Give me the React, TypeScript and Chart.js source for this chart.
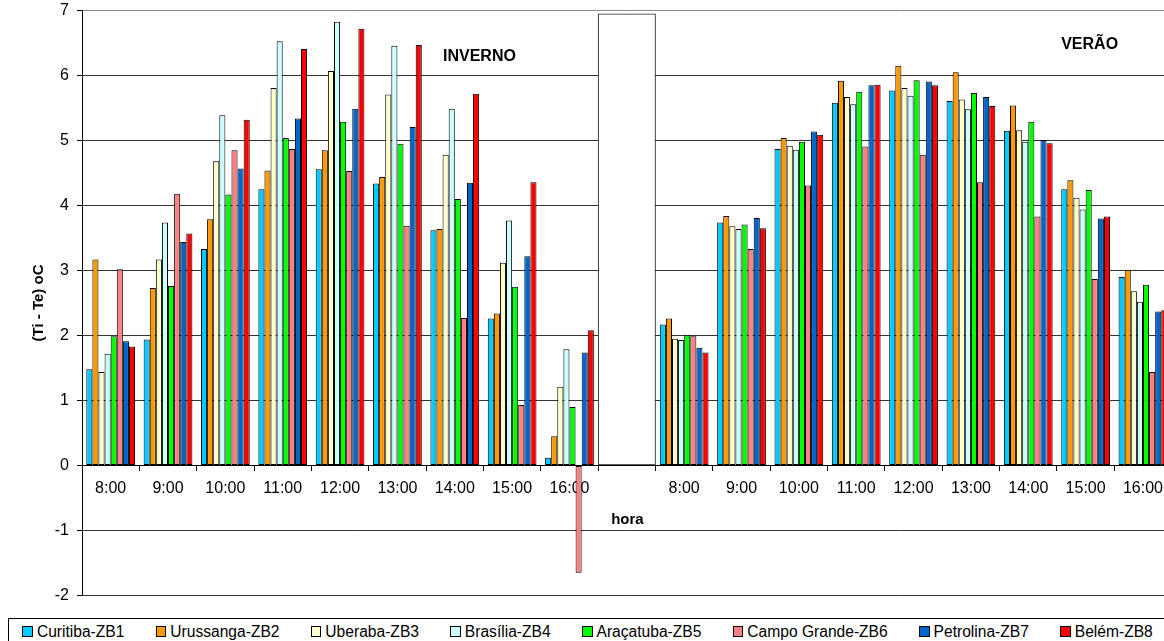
import { useEffect, useRef } from "react";
import { Chart, registerables } from "chart.js";

Chart.register(...registerables);

const FONT = '"Liberation Sans", Arial, Helvetica, sans-serif';

// Hours of the day, shown once for winter and once for summer
const hours = ["8:00", "9:00", "10:00", "11:00", "12:00", "13:00", "14:00", "15:00", "16:00"];
// Empty slot between the two seasons holds the separator box
const labels = [...hours, "", ...hours];

// (Ti - Te) in °C — winter (INVERNO)
const curitibaInverno = [1.48, 1.94, 3.33, 4.25, 4.56, 4.34, 3.62, 2.26, 0.12];
const urussangaInverno = [3.17, 2.73, 3.79, 4.54, 4.85, 4.44, 3.64, 2.34, 0.45];
const uberabaInverno = [1.44, 3.17, 4.69, 5.81, 6.07, 5.71, 4.78, 3.12, 1.21];
const brasiliaInverno = [1.72, 3.74, 5.39, 6.53, 6.83, 6.46, 5.49, 3.77, 1.79];
const aracatubaInverno = [1.99, 2.76, 4.17, 5.04, 5.29, 4.95, 4.1, 2.75, 0.9];
const campoGrandeInverno = [3.02, 4.18, 4.85, 4.87, 4.53, 3.69, 2.27, 0.93, -1.65];
const petrolinaInverno = [1.91, 3.44, 4.57, 5.34, 5.49, 5.21, 4.35, 3.22, 1.74];
const belemInverno = [1.83, 3.57, 5.32, 6.41, 6.72, 6.47, 5.72, 4.36, 2.08];

// (Ti - Te) in °C — summer (VERÃO)
const curitibaVerao = [2.17, 3.74, 4.87, 5.58, 5.77, 5.61, 5.15, 4.25, 2.9];
const urussangaVerao = [2.26, 3.84, 5.04, 5.92, 6.15, 6.05, 5.54, 4.39, 3.01];
const uberabaVerao = [1.95, 3.68, 4.92, 5.67, 5.81, 5.63, 5.16, 4.12, 2.68];
const brasiliaVerao = [1.93, 3.64, 4.86, 5.56, 5.69, 5.48, 4.98, 3.94, 2.52];
const aracatubaVerao = [2.01, 3.71, 4.98, 5.75, 5.93, 5.73, 5.29, 4.24, 2.78];
const campoGrandeVerao = [1.99, 3.33, 4.31, 4.91, 4.78, 4.36, 3.83, 2.87, 1.44];
const petrolinaVerao = [1.81, 3.81, 5.14, 5.85, 5.91, 5.67, 5.01, 3.8, 2.37];
const belemVerao = [1.74, 3.65, 5.09, 5.86, 5.85, 5.53, 4.96, 3.83, 2.39];

// Height of the blank separator box between the seasons
const separatorHeight = 6.95;

const seriesNames = [
  "Curitiba-ZB1",
  "Urussanga-ZB2",
  "Uberaba-ZB3",
  "Brasília-ZB4",
  "Araçatuba-ZB5",
  "Campo Grande-ZB6",
  "Petrolina-ZB7",
  "Belém-ZB8",
];
const seriesColors = ["#00CCFF", "#FF9900", "#FFFFCC", "#CCFFFF", "#00FF00", "#FF8080", "#0066CC", "#FF0000"];
const winterValues = [
  curitibaInverno,
  urussangaInverno,
  uberabaInverno,
  brasiliaInverno,
  aracatubaInverno,
  campoGrandeInverno,
  petrolinaInverno,
  belemInverno,
];
const summerValues = [
  curitibaVerao,
  urussangaVerao,
  uberabaVerao,
  brasiliaVerao,
  aracatubaVerao,
  campoGrandeVerao,
  petrolinaVerao,
  belemVerao,
];

// Free text drawn inside the plot, placed in data coordinates
const seasonText = {
  id: "seasonText",
  afterDraw(chart: any) {
    const { ctx, scales } = chart;
    const x = scales.x;
    const y = scales.y;
    ctx.save();
    ctx.fillStyle = "#000";
    ctx.textAlign = "center";
    ctx.textBaseline = "middle";
    ctx.font = `bold 16px ${FONT}`;
    ctx.fillText("INVERNO", x.getPixelForValue(6.43), y.getPixelForValue(6.29));
    ctx.fillText("VERÃO", x.getPixelForValue(17.07), y.getPixelForValue(6.48));
    ctx.font = `bold 15px ${FONT}`;
    ctx.fillText("hora", x.getPixelForValue(9.01), y.getPixelForValue(-0.83));
    ctx.restore();
  },
};

function ChartCanvas() {
  const ref = useRef<HTMLCanvasElement>(null);

  useEffect(() => {
    if (!ref.current) return;
    Chart.defaults.font.family = FONT;
    Chart.defaults.color = "#000";

    const barSets = seriesNames.map((name, i) => ({
      label: name,
      data: [...winterValues[i], null, ...summerValues[i]],
      backgroundColor: seriesColors[i],
      borderColor: "#000",
      borderWidth: 1,
      borderSkipped: false,
      barPercentage: 1,
      categoryPercentage: 0.85,
    }));

    const separator = {
      label: "separator",
      data: labels.map((_, i) => (i === hours.length ? separatorHeight : null)),
      backgroundColor: "#FFFFFF",
      borderColor: "#222",
      borderWidth: 1,
      borderSkipped: false,
      grouped: false,
      barPercentage: 1,
      categoryPercentage: 1,
    };

    const chart = new Chart(ref.current, {
      type: "bar",
      data: { labels, datasets: [...barSets, separator] as any },
      plugins: [seasonText],
      options: {
        animation: false,
        responsive: false,
        maintainAspectRatio: false,
        layout: { padding: { top: 0, right: 0, bottom: 10, left: 0 } },
        plugins: {
          legend: { display: false },
          tooltip: { enabled: false },
          title: { display: false },
        },
        scales: {
          x: {
            position: { y: 0 } as any,
            ticks: {
              color: "#000",
              font: { size: 16, family: FONT },
              padding: 9,
              autoSkip: false,
              maxRotation: 0,
            },
            grid: {
              offset: true,
              drawOnChartArea: false,
              drawTicks: true,
              tickLength: 5,
              color: "#000",
            },
            border: { color: "#000", width: 1 },
          },
          y: {
            min: -2,
            max: 7,
            ticks: {
              stepSize: 1,
              color: "#000",
              font: { size: 16, family: FONT },
              padding: 8,
            },
            grid: {
              color: (c: any) => (c.tick && c.tick.value === 7 ? "#888" : "#333"),
              tickColor: "#000",
              tickLength: 5,
              lineWidth: 1,
            },
            border: { color: "#000", width: 1 },
            title: {
              display: true,
              text: "(Ti - Te) oC",
              color: "#000",
              font: { size: 15, weight: "bold", family: FONT },
              padding: { top: 30, bottom: 0 },
            },
            afterFit(scale: any) {
              scale.width = 82;
            },
          },
        },
      },
    });

    return () => chart.destroy();
  }, []);

  return (
    <canvas
      ref={ref}
      width={1172}
      height={620}
      style={{ position: "absolute", left: 0, top: -7, width: 1172, height: 620, display: "block" }}
    />
  );
}

function Legend() {
  return (
    <div
      style={{
        position: "absolute",
        left: 8,
        top: 618,
        width: 1170,
        height: 21,
        border: "1px solid #000",
        background: "#fff",
        display: "flex",
        alignItems: "center",
        paddingLeft: 13.2,
        paddingTop: 2,
        boxSizing: "content-box",
        fontFamily: FONT,
        fontSize: 15.6,
        color: "#000",
        whiteSpace: "nowrap",
      }}
    >
      {seriesNames.map((name, i) => (
        <div key={name} style={{ display: "flex", alignItems: "center", marginRight: 31.2 }}>
          <span
            style={{
              display: "inline-block",
              width: 8.7,
              height: 8.7,
              border: "1px solid #000",
              background: seriesColors[i],
              marginRight: 4,
            }}
          />
          <span>{name}</span>
        </div>
      ))}
    </div>
  );
}

export default function App() {
  return (
    <div
      style={{
        position: "fixed",
        left: 0,
        top: 0,
        width: 1164,
        height: 641,
        overflow: "hidden",
        background: "#fff",
      }}
    >
      <ChartCanvas />
      <Legend />
    </div>
  );
}
